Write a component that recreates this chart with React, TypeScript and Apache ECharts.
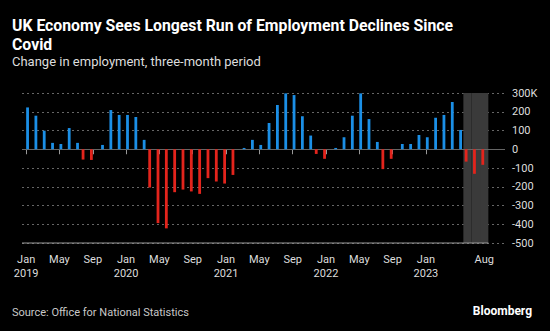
import React, { useEffect, useRef } from "react";
import * as echarts from "echarts";

// Months Jan 2019 .. Aug 2023 plus two empty slots on the right
const months: string[] = [
  "2019-01","2019-02","2019-03","2019-04","2019-05","2019-06","2019-07","2019-08","2019-09","2019-10","2019-11","2019-12",
  "2020-01","2020-02","2020-03","2020-04","2020-05","2020-06","2020-07","2020-08","2020-09","2020-10","2020-11","2020-12",
  "2021-01","2021-02","2021-03","2021-04","2021-05","2021-06","2021-07","2021-08","2021-09","2021-10","2021-11","2021-12",
  "2022-01","2022-02","2022-03","2022-04","2022-05","2022-06","2022-07","2022-08","2022-09","2022-10","2022-11","2022-12",
  "2023-01","2023-02","2023-03","2023-04","2023-05","2023-06","2023-07","2023-08",
];
const padSlots: string[] = ["pad1", "pad2"];

// Change in employment (thousands), three-month period
const employmentChange: number[] = [
  223, 179, 99, 34, 28, 113, 34, -55, -57, 23, 209, 183,
  183, 172, 50, -204, -394, -422, -229, -215, -225, -238, -154, -172,
  -183, -137, 7, 50, 23, 140, 236, 298, 289, 176, 73, -25,
  -51, 7, 64, 179, 298, 161, 39, -106, -51, 28, 28, 76,
  64, 168, 183, 252, 103, -66, -131, -83,
];

const tickMonths: string[] = [
  "2019-01","2019-05","2019-09","2020-01","2020-05","2020-09","2021-01","2021-05","2021-09",
  "2022-01","2022-05","2022-09","2023-01","2023-08",
];
const shadedMonths: string[] = ["2023-06", "2023-07", "2023-08"];
const yMin = -500;
const yMax = 300;
const yStep = 100;
const monthNames = ["Jan","Feb","Mar","Apr","May","Jun","Jul","Aug","Sep","Oct","Nov","Dec"];

export default function App() {
  const ref = useRef<HTMLDivElement>(null);
  useEffect(() => {
    document.body.style.margin = "0";
    document.body.style.background = "#000";
    const chart = echarts.init(ref.current!, null, { renderer: "svg" });
    const cats = [...months, ...padSlots];
    const lastIdx = months.length - 1;
    const showIdx = (i: number) => tickMonths.includes(cats[i]);
    const neg = cats.map((c, i) => (i <= lastIdx ? (employmentChange[i] < 0 ? employmentChange[i] : 0) : "-"));
    const pos = cats.map((c, i) => (i <= lastIdx ? (employmentChange[i] >= 0 ? employmentChange[i] : 0) : "-"));
    const shadeTop = cats.map((c) => (shadedMonths.includes(c) ? yMax : "-"));
    const shadeBottom = cats.map((c) => (shadedMonths.includes(c) ? yMin : "-"));
    const font = "Roboto";

    chart.setOption({
      animation: false,
      backgroundColor: "#000",
      title: [
        {
          text: "UK Economy Sees Longest Run of Employment Declines Since\nCovid",
          left: 12, top: 16, padding: 0,
          textStyle: { fontFamily: font, fontWeight: "bold", fontSize: 15.8, lineHeight: 19, color: "#fff" },
        },
        {
          text: "Change in employment, three-month period",
          left: 12, top: 54, padding: 0,
          textStyle: { fontFamily: font, fontWeight: "normal", fontSize: 13, lineHeight: 15, color: "#ddd" },
        },
        {
          text: "Source: Office for National Statistics",
          left: 12, top: 306, padding: 0,
          textStyle: { fontFamily: font, fontWeight: "normal", fontSize: 11, lineHeight: 13, color: "#c8c8c8" },
        },
        {
          text: "Bloomberg",
          right: 18, top: 304, padding: 0,
          textStyle: { fontFamily: font, fontWeight: "bold", fontSize: 12, lineHeight: 14, color: "#fff" },
        },
      ],
      grid: { left: 22, right: 45, top: 93, bottom: 88 },
      xAxis: [
        {
          type: "category",
          data: cats,
          boundaryGap: true,
          axisLine: { show: false },
          axisTick: {
            show: true, alignWithLabel: true, length: 5,
            interval: (i: number) => showIdx(i),
            lineStyle: { color: "#999", width: 1 },
          },
          axisLabel: {
            interval: (i: number) => showIdx(i),
            margin: 9,
            fontFamily: font, fontSize: 11, lineHeight: 14, color: "#ddd",
            formatter: (v: string) => {
              if (!v || v.startsWith("pad")) return "";
              const [y, m] = v.split("-");
              const name = monthNames[parseInt(m, 10) - 1];
              return m === "01" ? `${name}\n${y}` : name;
            },
          },
          splitLine: { show: false },
        },
        { type: "category", data: cats, boundaryGap: true, show: false },
      ],
      yAxis: {
        type: "value",
        position: "right",
        min: yMin, max: yMax, interval: yStep,
        axisLine: { show: false },
        axisTick: { show: false },
        axisLabel: {
          margin: 7, fontFamily: font, fontSize: 11, color: "#ddd",
          formatter: (v: number) => (v === yMax ? `${v}K` : `${v}`),
        },
        splitLine: { show: true, lineStyle: { color: "#666", type: [2, 3], width: 1 } },
      },
      series: [
        {
          type: "bar", xAxisIndex: 1, stack: "shade", data: shadeTop, barWidth: "100%",
          itemStyle: { color: "#3a3a3a" }, z: 1, silent: true,
        },
        {
          type: "bar", xAxisIndex: 1, stack: "shade", data: shadeBottom, barWidth: "100%",
          itemStyle: { color: "#3a3a3a" }, z: 1, silent: true,
        },
        {
          type: "bar", name: "decline", data: neg, barWidth: 2.8, barGap: "0%",
          itemStyle: { color: "#e3241c" }, z: 3,
        },
        {
          type: "bar", name: "rise", data: pos, barWidth: 2.8, barGap: "0%",
          itemStyle: { color: "#1b8fe6" }, z: 3,
          markLine: {
            silent: true, symbol: "none", label: { show: false },
            lineStyle: { color: "#666", type: "solid", width: 1 },
            data: [{ yAxis: 0 }],
            z: 2,
          },
        },
      ],
    });

    const p0 = chart.convertToPixel({ xAxisIndex: 0 }, months[0]) as number;
    const p1 = chart.convertToPixel({ xAxisIndex: 0 }, months[1]) as number;
    const pl = chart.convertToPixel({ xAxisIndex: 0 }, months[lastIdx]) as number;
    const band = p1 - p0;
    const yb = chart.convertToPixel({ yAxisIndex: 0 }, yMin) as number;
    chart.setOption({
      graphic: [
        {
          type: "line", z: 5, silent: true,
          shape: { x1: p0 - band / 2, y1: yb, x2: pl + band / 2, y2: yb },
          style: { stroke: "#999", lineWidth: 1 },
        },
      ],
    });

    return () => chart.dispose();
  }, []);
  return <div ref={ref} style={{ width: 550, height: 331 }} />;
}
